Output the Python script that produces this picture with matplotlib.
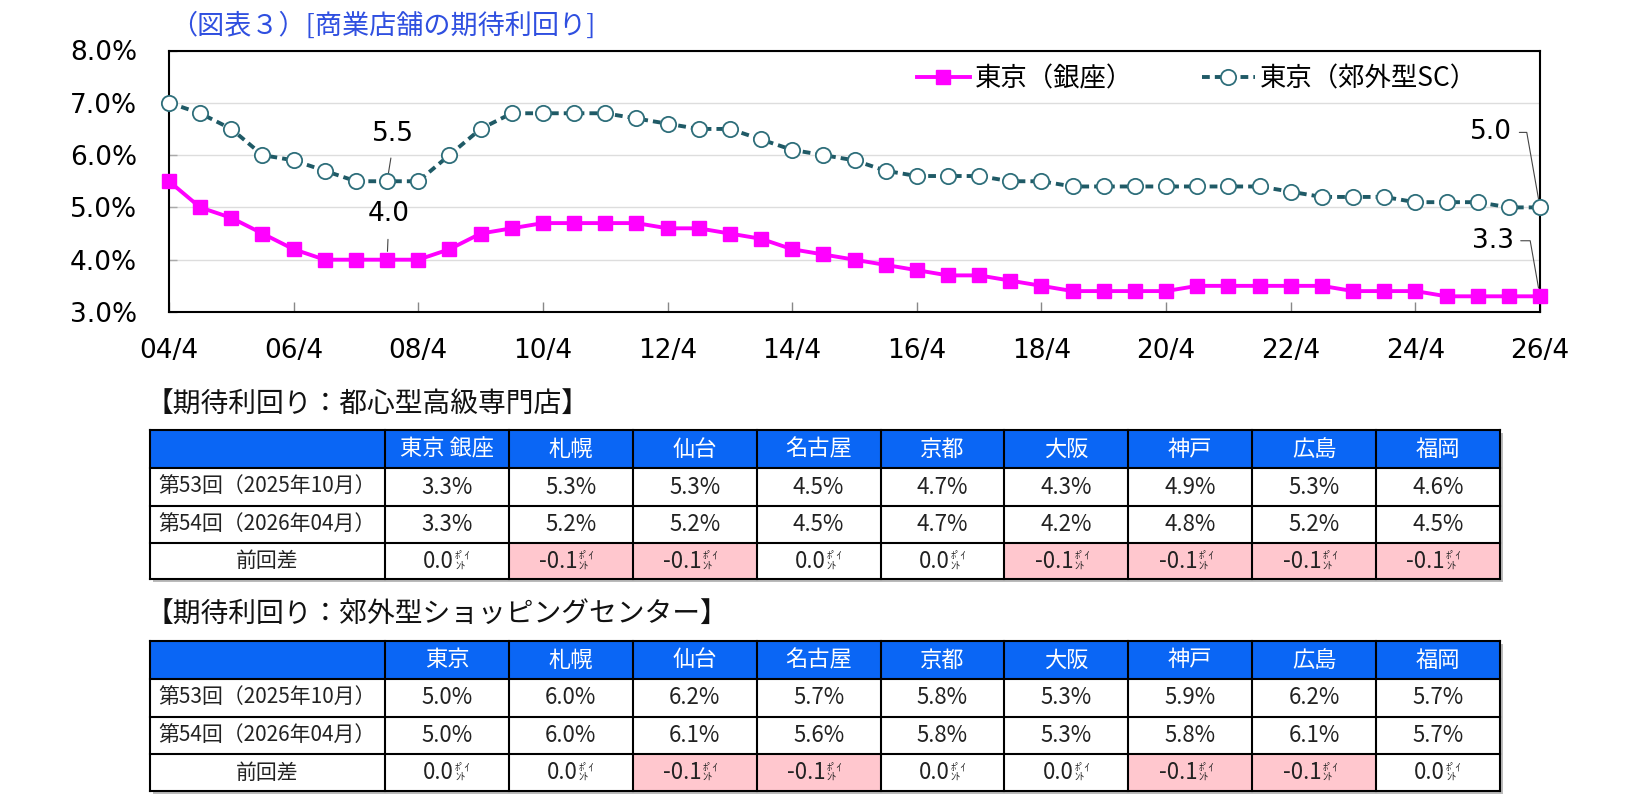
import matplotlib
matplotlib.use("Agg")
import matplotlib.pyplot as plt
from matplotlib.patches import Rectangle

# ---------------- data ----------------
x_labels = ['04/4', '06/4', '08/4', '10/4', '12/4', '14/4', '16/4', '18/4',
            '20/4', '22/4', '24/4', '26/4']
ginza = [5.5, 5.0, 4.8, 4.5, 4.2, 4.0, 4.0, 4.0, 4.0, 4.2, 4.5, 4.6, 4.7, 4.7, 4.7,
         4.7, 4.6, 4.6, 4.5, 4.4, 4.2, 4.1, 4.0, 3.9, 3.8, 3.7, 3.7, 3.6, 3.5, 3.4,
         3.4, 3.4, 3.4, 3.5, 3.5, 3.5, 3.5, 3.5, 3.4, 3.4, 3.4, 3.3, 3.3, 3.3, 3.3]
suburban_sc = [7.0, 6.8, 6.5, 6.0, 5.9, 5.7, 5.5, 5.5, 5.5, 6.0, 6.5, 6.8, 6.8, 6.8, 6.8,
               6.7, 6.6, 6.5, 6.5, 6.3, 6.1, 6.0, 5.9, 5.7, 5.6, 5.6, 5.6, 5.5, 5.5, 5.4,
               5.4, 5.4, 5.4, 5.4, 5.4, 5.4, 5.3, 5.2, 5.2, 5.2, 5.1, 5.1, 5.1, 5.0, 5.0]
series_names = ['東京（銀座）', '東京（郊外型SC）']
y_ticks = [3.0, 4.0, 5.0, 6.0, 7.0, 8.0]

row_labels = ['第53回（2025年10月）', '第54回（2026年04月）', '前回差']
cities1 = ['東京 銀座', '札幌', '仙台', '名古屋', '京都', '大阪', '神戸', '広島', '福岡']
prev1 = [3.3, 5.3, 5.3, 4.5, 4.7, 4.3, 4.9, 5.3, 4.6]
cur1 = [3.3, 5.2, 5.2, 4.5, 4.7, 4.2, 4.8, 5.2, 4.5]
cities2 = ['東京', '札幌', '仙台', '名古屋', '京都', '大阪', '神戸', '広島', '福岡']
prev2 = [5.0, 6.0, 6.2, 5.7, 5.8, 5.3, 5.9, 6.2, 5.7]
cur2 = [5.0, 6.0, 6.1, 5.6, 5.8, 5.3, 5.8, 6.1, 5.7]
table1_title = '【期待利回り：都心型高級専門店】'
table2_title = '【期待利回り：郊外型ショッピングセンター】'
chart_title = '（図表３）[商業店舗の期待利回り]'

# ---------------- style ----------------
W, H = 1652, 800
JP = ['Noto Sans CJK JP', 'DejaVu Sans']
NUM = ['DejaVu Sans']
MAGENTA = '#FF00FF'
TEAL = '#1F5A66'
TEAL_EDGE = '#2E6E7A'
HEADER_BLUE = '#0A66F5'
PINK = '#FFC7CE'
TITLE_BLUE = '#2F4FE0'

fig = plt.figure(figsize=(W / 100, H / 100), dpi=100)
fig.patch.set_facecolor('white')

# overlay axes in pixel coordinates for tables / titles
tab = fig.add_axes([0, 0, 1, 1], zorder=0)
tab.set_xlim(0, W)
tab.set_ylim(H, 0)
tab.axis('off')

# ---------------- line chart ----------------
ax = fig.add_axes([169 / W, 1 - 312 / H, (1540 - 169) / W, (312 - 50.5) / H], zorder=2)
ax.patch.set_alpha(0)
xs = list(range(len(ginza)))
ax.plot(xs, ginza, color=MAGENTA, lw=2.8, marker='s', ms=10, mfc=MAGENTA,
        mec=MAGENTA, label=series_names[0], zorder=4, clip_on=False)
ax.plot(xs, suburban_sc, color=TEAL, lw=2.8, ls=(0, (2.0, 1.3)), marker='o', ms=11,
        mfc='white', mec=TEAL_EDGE, mew=1.3, label=series_names[1], zorder=4,
        clip_on=False)

ax.set_xlim(0, len(ginza) - 1)
ax.set_ylim(y_ticks[0], y_ticks[-1])
ax.set_xticks(list(range(0, len(ginza), 4)))
ax.set_xticklabels(x_labels)
ax.set_yticks(y_ticks)
ax.set_yticklabels([f'{v:.1f}%' for v in y_ticks])
for lab in ax.get_xticklabels() + ax.get_yticklabels():
    lab.set_fontfamily(NUM)
    lab.set_fontsize(19)
ax.tick_params(axis='x', direction='in', length=7, width=1, color='#888888', pad=19)
ax.tick_params(axis='y', direction='in', length=6, width=1, color='#AAAAAA', pad=23)
ax.yaxis.grid(True, color='#DDDDDD', lw=1)
ax.set_axisbelow(True)
for s in ax.spines.values():
    s.set_linewidth(1.5)
    s.set_color('black')

leg = ax.legend(loc='center left', bbox_to_anchor=(917 / W, 1 - 79 / H),
                bbox_transform=fig.transFigure, ncol=2, frameon=False,
                prop={'family': JP, 'size': 19}, handlelength=2.0,
                handletextpad=0.2, columnspacing=2.6, borderpad=0, borderaxespad=0,
                numpoints=1)

# annotations
i_min = 7
last = len(ginza) - 1
akw = dict(textcoords='offset points', fontsize=19, family=NUM, ha='center', va='center')
ax.annotate(f'{suburban_sc[i_min]:.1f}', xy=(i_min, suburban_sc[i_min]), xytext=(4, 34),
            arrowprops=dict(arrowstyle='-', color='#444444', lw=0.8, relpos=(0.5, 0),
                            shrinkA=6, shrinkB=6), **akw)
ax.annotate(f'{ginza[i_min]:.1f}', xy=(i_min, ginza[i_min]), xytext=(1, 33),
            arrowprops=dict(arrowstyle='-', color='#444444', lw=0.8, relpos=(0.5, 0),
                            shrinkA=7, shrinkB=6), **akw)
ax.annotate(f'{suburban_sc[last]:.1f}', xy=(last, suburban_sc[last]), xytext=(-35, 54),
            arrowprops=dict(arrowstyle='-', color='#444444', lw=0.8, relpos=(1.0, 0.5),
                            connectionstyle='angle,angleA=0,angleB=100,rad=0',
                            shrinkA=3, shrinkB=6), **akw)
ax.annotate(f'{ginza[last]:.1f}', xy=(last, ginza[last]), xytext=(-34, 40),
            arrowprops=dict(arrowstyle='-', color='#444444', lw=0.8, relpos=(1.0, 0.5),
                            connectionstyle='angle,angleA=0,angleB=100,rad=0',
                            shrinkA=3, shrinkB=6), **akw)

# chart title
tab.text(170, 26, chart_title, color=TITLE_BLUE, fontsize=19.5, family=JP,
         ha='left', va='center')

# ---------------- tables ----------------
col_edges = [150, 385] + [385 + (1500 - 385) / 9 * (k + 1) for k in range(9)]


def draw_table(title, title_y, row_edges, cities, prev, cur):
    tab.text(146, title_y, title, fontsize=20, family=JP, ha='left', va='center',
             color='#111111')
    x0, x1 = col_edges[0], col_edges[-1]
    y0, y1 = row_edges[0], row_edges[-1]
    # shadow
    tab.add_patch(Rectangle((x0 + 3, y0 + 3), x1 - x0, y1 - y0, facecolor='#BBBBBB',
                            edgecolor='none', zorder=1))
    tab.add_patch(Rectangle((x0, y0), x1 - x0, y1 - y0, facecolor='white',
                            edgecolor='none', zorder=1.5))
    # header
    tab.add_patch(Rectangle((x0, row_edges[0]), x1 - x0, row_edges[1] - row_edges[0],
                            facecolor=HEADER_BLUE, edgecolor='none', zorder=2))
    diffs = [round(c - p, 1) for p, c in zip(prev, cur)]
    for j in range(len(cities)):
        if diffs[j] < 0:
            tab.add_patch(Rectangle((col_edges[j + 1], row_edges[3]),
                                    col_edges[j + 2] - col_edges[j + 1],
                                    row_edges[4] - row_edges[3],
                                    facecolor=PINK, edgecolor='none', zorder=2))
    # grid lines
    for yy in row_edges:
        tab.plot([x0, x1], [yy, yy], color='black', lw=1.5, zorder=3,
                 solid_capstyle='projecting')
    for xx in col_edges:
        tab.plot([xx, xx], [y0, y1], color='black', lw=1.5, zorder=3,
                 solid_capstyle='projecting')
    tk = dict(family=JP, fontsize=16, va='center', zorder=4)
    for j, c in enumerate(cities):
        cx = (col_edges[j + 1] + col_edges[j + 2]) / 2
        tab.text(cx, (row_edges[0] + row_edges[1]) / 2, c, color='white', ha='center', **tk)
        tab.text(cx, (row_edges[1] + row_edges[2]) / 2, f'{prev[j]:.1f}%', color='#222222',
                 ha='center', **tk)
        tab.text(cx, (row_edges[2] + row_edges[3]) / 2, f'{cur[j]:.1f}%', color='#222222',
                 ha='center', **tk)
        d = diffs[j]
        dtxt = f'{d:.1f}' if d != 0 else '0.0'
        ym = (row_edges[3] + row_edges[4]) / 2
        tab.text(cx + 7, ym, dtxt, color='#222222', ha='right', **tk)
        tab.text(cx + 8, ym - 5, 'ﾎﾟｲ', color='#222222', ha='left', va='center',
                 family=JP, fontsize=7.5, zorder=4)
        tab.text(cx + 8, ym + 4.5, 'ﾝﾄ', color='#222222', ha='left', va='center',
                 family=JP, fontsize=7.5, zorder=4)
    tl = dict(family=JP, fontsize=15, va='center', zorder=4)
    tab.text(158, (row_edges[1] + row_edges[2]) / 2, row_labels[0], color='#222222',
             ha='left', **tl)
    tab.text(158, (row_edges[2] + row_edges[3]) / 2, row_labels[1], color='#222222',
             ha='left', **tl)
    tab.text((col_edges[0] + col_edges[1]) / 2, (row_edges[3] + row_edges[4]) / 2,
             row_labels[2], color='#222222', ha='center', **tl)


draw_table(table1_title, 405, [430, 468, 506, 543, 579], cities1, prev1, cur1)
draw_table(table2_title, 615, [641, 679, 717, 754, 791], cities2, prev2, cur2)

fig.savefig('out.png', dpi=100)
